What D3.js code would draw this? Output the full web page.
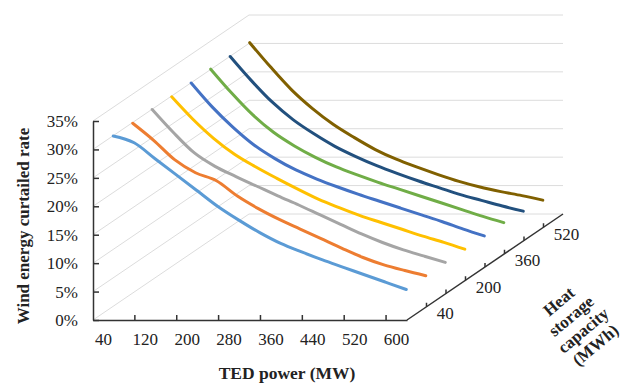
<!DOCTYPE html>
<html>
<head>
<meta charset="utf-8">
<script src="https://cdn.jsdelivr.net/npm/d3@7"></script>
<style>
  body { margin: 0; background: #fff; }
  text { font-family: "Liberation Serif", "Times New Roman", serif; }
</style>
</head>
<body>
<div id="chart"></div>
<script>
// TED power categories (MW) and heat storage capacity series (MWh)
const tedPower = [40, 80, 120, 160, 200, 240, 280, 320, 360, 400, 440, 480, 520, 560, 600];
const storageCap = [40, 120, 200, 280, 360, 440, 520, 600];

// wind energy curtailed rate (%) per storage capacity
const rate40  = [31.2, 30.0, 27.2, 24.4, 21.6, 18.8, 16.4, 14.2, 12.3, 10.8, 9.4, 8.1, 6.8, 5.5, 4.2];
const rate120 = [31.1, 28.1, 24.7, 22.4, 21.0, 18.3, 16.1, 14.2, 12.5, 10.8, 9.1, 7.5, 6.2, 5.2, 4.3];
const rate200 = [31.2, 27.2, 23.6, 21.2, 19.4, 17.7, 16.0, 14.4, 12.7, 11.0, 9.3, 7.8, 6.5, 5.4, 4.3];
const rate280 = [31.1, 27.2, 23.8, 21.0, 18.8, 16.8, 14.9, 13.1, 11.6, 10.2, 9.0, 7.8, 6.6, 5.5, 4.3];
const rate360 = [31.2, 27.0, 23.4, 20.3, 17.9, 15.9, 14.3, 12.9, 11.6, 10.4, 9.2, 8.0, 6.8, 5.5, 4.3];
const rate440 = [31.3, 27.1, 23.3, 20.2, 17.8, 15.8, 14.1, 12.7, 11.4, 10.2, 9.0, 7.8, 6.6, 5.4, 4.3];
const rate520 = [31.2, 27.0, 23.2, 20.1, 17.6, 15.4, 13.6, 12.0, 10.6, 9.3, 8.1, 6.9, 5.9, 4.9, 4.0];
const rate600 = [31.3, 27.0, 23.0, 19.7, 16.9, 14.6, 12.5, 10.8, 9.4, 8.1, 6.9, 5.9, 5.1, 4.4, 3.6];

const yTicks = [0, 5, 10, 15, 20, 25, 30, 35];
const xLabels = [40, 120, 200, 280, 360, 440, 520, 600];
const depthLabels = [40, 200, 360, 520];
const colors = ["#5b9bd5", "#ed7d31", "#a5a5a5", "#ffc000", "#4472c4", "#70ad47", "#22507e", "#806000"];

const series = [rate40, rate120, rate200, rate280, rate360, rate440, rate520, rate600]
  .map((vals, i) => ({ cap: storageCap[i], vals: vals, color: colors[i] }));

const width = 622, height = 390;
const dX = 156, dY = -106;   // depth vector of the 3d box

const x = d3.scaleBand().domain(tedPower).range([93, 407]);
const y = d3.scaleLinear().domain([0, 35]).range([320, 121]);
const z = d3.scaleBand().domain(storageCap).range([0, 1]);

const svg = d3.select("#chart").append("svg")
    .attr("width", width)
    .attr("height", height);

// side wall + back wall gridlines
const x0 = x.range()[0], x1 = x.range()[1];
svg.append("g")
  .selectAll("path")
  .data(yTicks)
  .join("path")
    .attr("d", d => `M${x0},${y(d)} L${x0 + dX},${y(d) + dY} L${x1 + dX},${y(d) + dY}`)
    .attr("fill", "none")
    .attr("stroke", "#dcdcdc")
    .attr("stroke-width", 1);

// series lines, back to front
const line = d3.line().curve(d3.curveMonotoneX);
const bw = x.bandwidth();
svg.append("g")
  .selectAll("path")
  .data(series.slice().reverse())
  .join("path")
    .attr("d", s => {
      const f = z(s.cap) + z.bandwidth() / 2;
      return line(s.vals.map((v, k) => [x(tedPower[k]) + bw / 2 + dX * f, y(v) + dY * f]));
    })
    .attr("fill", "none")
    .attr("stroke", s => s.color)
    .attr("stroke-width", 3)
    .attr("stroke-linejoin", "round")
    .attr("stroke-linecap", "round");

// y axis
const yAxis = svg.append("g")
    .attr("transform", `translate(${x0},0)`)
    .call(d3.axisLeft(y).tickValues(yTicks).tickSize(-6).tickSizeOuter(0).tickPadding(15)
      .tickFormat(d => d + "%"));
yAxis.selectAll("text").attr("font-size", 17).attr("fill", "#222")
    .style("font-family", "'Liberation Serif', serif");
yAxis.select(".domain").attr("stroke", "#333").attr("stroke-width", 1.5);
yAxis.selectAll(".tick line").attr("stroke", "#333").attr("stroke-width", 1.5);

// x axis (labels at every other category)
const xAxis = svg.append("g")
    .attr("transform", `translate(0,${y(0)})`)
    .call(d3.axisBottom(x).tickValues(xLabels).tickSize(0).tickSizeOuter(0).tickPadding(13));
xAxis.selectAll("text").attr("font-size", 17).attr("fill", "#222")
    .style("font-family", "'Liberation Serif', serif");
xAxis.select(".domain").attr("stroke", "#333").attr("stroke-width", 1.5);

// x tick marks on category boundaries
svg.append("g")
  .selectAll("line")
  .data(tedPower.filter((d, i) => i > 0 && i % 2 === 0))
  .join("line")
    .attr("x1", d => x(d)).attr("x2", d => x(d))
    .attr("y1", y(0)).attr("y2", y(0) - 5)
    .attr("stroke", "#333").attr("stroke-width", 1.5);

// depth axis
const dx0 = x1, dy0 = y(0);
svg.append("line")
    .attr("x1", dx0).attr("y1", dy0)
    .attr("x2", dx0 + dX).attr("y2", dy0 + dY)
    .attr("stroke", "#333").attr("stroke-width", 1.5);

svg.append("g")
  .selectAll("line")
  .data(storageCap.slice(1))
  .join("line")
    .attr("x1", d => dx0 + dX * z(d)).attr("x2", d => dx0 + dX * z(d))
    .attr("y1", d => dy0 + dY * z(d)).attr("y2", d => dy0 + dY * z(d) - 4)
    .attr("stroke", "#333").attr("stroke-width", 1.5);

svg.append("g")
  .selectAll("text")
  .data(depthLabels)
  .join("text")
    .attr("x", d => dx0 + dX * (z(d) + z.bandwidth() / 2) + 20)
    .attr("y", d => dy0 + dY * (z(d) + z.bandwidth() / 2))
    .attr("dy", "0.35em")
    .attr("font-size", 17)
    .attr("fill", "#222")
    .text(d => d);

// axis titles
svg.append("text")
    .attr("x", 287).attr("y", 379)
    .attr("text-anchor", "middle")
    .attr("font-size", 17.5)
    .attr("font-weight", "bold")
    .attr("fill", "#222")
    .text("TED power (MW)");

svg.append("text")
    .attr("transform", "translate(29,226) rotate(-90)")
    .attr("text-anchor", "middle")
    .attr("font-size", 17)
    .attr("font-weight", "bold")
    .attr("fill", "#222")
    .text("Wind energy curtailed rate");

const depthTitle = svg.append("text")
    .attr("transform", "translate(577,323) rotate(-40)")
    .attr("text-anchor", "middle")
    .attr("font-size", 17)
    .attr("font-weight", "bold")
    .attr("fill", "#222");
["Heat", "storage", "capacity", "(MWh)"].forEach((t, i) => {
  depthTitle.append("tspan")
      .attr("x", 0)
      .attr("y", (i - 1.5) * 19)
      .attr("dy", "0.35em")
      .text(t);
});
</script>
</body>
</html>
